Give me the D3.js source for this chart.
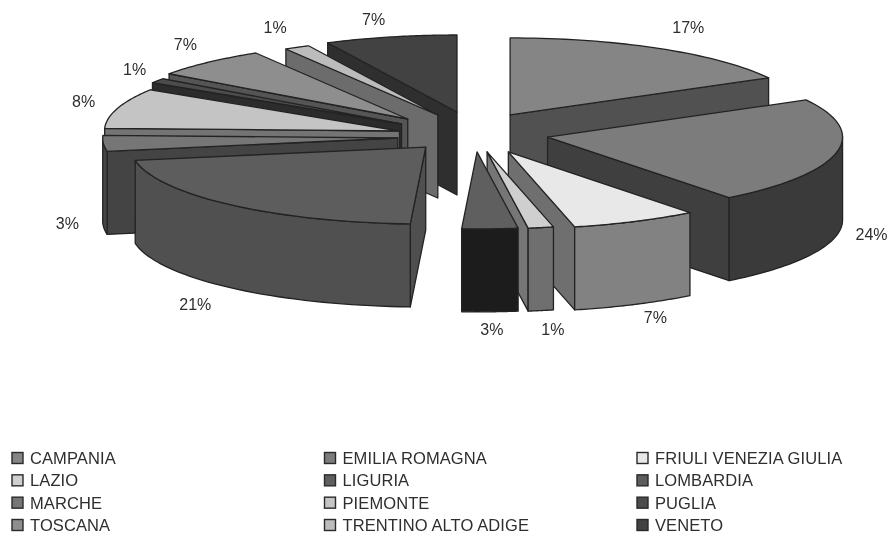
<!DOCTYPE html>
<html><head><meta charset="utf-8">
<script src="https://cdn.jsdelivr.net/npm/d3@7"></script>
<style>html,body{margin:0;padding:0;background:#fff}svg{display:block;filter:blur(0.45px)}text{font-family:"Liberation Sans",Arial,sans-serif;fill:#2e2e2e}</style>
</head><body><svg id="c" width="888" height="534"></svg>
<script>
const categories=["CAMPANIA","EMILIA ROMAGNA","FRIULI VENEZIA GIULIA","LAZIO","LIGURIA","LOMBARDIA","MARCHE","PIEMONTE","PUGLIA","TOSCANA","TRENTINO ALTO ADIGE","VENETO"];
const values=[17,24,7,1,3,21,3,8,1,7,1,7];
const topColors=["#858585","#7c7c7c","#e8e8e8","#cfcfcf","#5f5f5f","#5d5d5d","#767676","#c4c4c4","#4c4c4c","#8e8e8e","#bcbcbc","#424242"];
const wallColors=["#515151","#3f3f3f","#6f6f6f","#767676","#1f1f1f","#4f4f4f","#444444","#747474","#2c2c2c","#555555","#6c6c6c","#2f2f2f"];
const frontColors=["#515151","#3a3a3a","#828282","#6f6f6f","#1c1c1c","#505050","#444444","#747474","#2c2c2c","#555555","#6c6c6c","#2f2f2f"];
// exploded-slice displacement, in fractions of the pie radius
const explodeX=[.18,.307,.174,.102,.068,-.106,-.201,-.195,-.188,-.167,-.065,0];
const explodeY=[-.04,.247,.44,.44,.44,.377,.26,.169,.078,.013,-.039,-.078];
// label nudges from the outer edge of each slice
const labelDX=[28,35,20,12,2,-35,-36,-34,-23,-23,-22,-17];
const labelDY=[-21,-1,13,19,18,17,-3,-7,-11,-18,-20,-18];
// the pie is drawn with a slight perspective: true angle -> apparent angle (degrees)
const trueAngle=[0,61.2,147.6,172.8,176.4,187.2,262.8,273.6,302.4,306,331.2,334.8,360];
const seenAngle=[0,61.2,142,167,172,183,260,272,302.4,306,329,334,360];

const svg=d3.select("#c");
const cx=457,cy=118,rx=295,ry=77,depth=83;
const x=d3.scaleLinear().domain([-1,1]).range([cx-rx,cx+rx]);
const y=d3.scaleLinear().domain([-1,1]).range([cy-ry,cy+ry]);
const warp=d3.scaleLinear().domain(trueAngle).range(seenAngle);
const pie=d3.pie().sort(null).value(d=>d)(values);
const rad=d=>warp(d*180/Math.PI)*Math.PI/180;
const slices=pie.map((p,i)=>({i,a0:rad(p.startAngle),a1:rad(p.endAngle)}));
const line=d3.line().x(d=>d[0]).y(d=>d[1]);
const pt=(s,a,r=1,dz=0)=>[x(explodeX[s.i]+r*Math.sin(a)),y(explodeY[s.i]-r*Math.cos(a))+dz];
const arcPts=(s,a0,a1,dz=0)=>d3.range(0,41).map(k=>pt(s,a0+(a1-a0)*k/40,1,dz));
function poly(pts,fill){
  svg.append("path").attr("d",line(pts)+"Z").attr("fill",fill)
     .attr("stroke","#232323").attr("stroke-width",1.3).attr("stroke-linejoin","round");
}

const order=[11,10,9,8,7,6,0,1,2,3,4,5];
order.forEach(idx=>{
  const s=slices[idx];
  const tip=pt(s,0,0),tipB=pt(s,0,0,depth);
  // radial walls that face the viewer
  if(Math.sin(s.a0)<-1e-3) poly([tip,pt(s,s.a0),pt(s,s.a0,1,depth),tipB],wallColors[idx]);
  if(Math.sin(s.a1)>1e-3)  poly([tip,pt(s,s.a1),pt(s,s.a1,1,depth),tipB],wallColors[idx]);
  // rim
  const f0=Math.max(s.a0,Math.PI/2),f1=Math.min(s.a1,1.5*Math.PI);
  if(f1>f0) poly(arcPts(s,f0,f1).concat(arcPts(s,f1,f0,depth)),frontColors[idx]);
  // top face
  poly([tip].concat(arcPts(s,s.a0,s.a1)),topColors[idx]);
  // percentage label
  const m=(s.a0+s.a1)/2,e=pt(s,m,1,Math.cos(m)<0?depth:0);
  svg.append("text").attr("x",e[0]+labelDX[idx]).attr("y",e[1]+labelDY[idx]).attr("dy","0.35em")
     .attr("text-anchor","middle").attr("font-size",16).text(values[idx]+"%");
});

// legend
const colX=d3.scalePoint().domain([0,1,2]).range([12,637]);
const rowY=d3.scalePoint().domain([0,1,2,3]).range([458,525]);
categories.forEach((c,i)=>{
  const g=svg.append("g").attr("transform",`translate(${colX(i%3)},${rowY(Math.floor(i/3))})`);
  g.append("rect").attr("x",0).attr("y",-5.5).attr("width",11).attr("height",11)
   .attr("fill",topColors[i]).attr("stroke","#2a2a2a").attr("stroke-width",1.4);
  g.append("text").attr("x",18).attr("dy","0.36em").attr("font-size",16.5).attr("letter-spacing",0.1).text(c);
});
</script></body></html>
